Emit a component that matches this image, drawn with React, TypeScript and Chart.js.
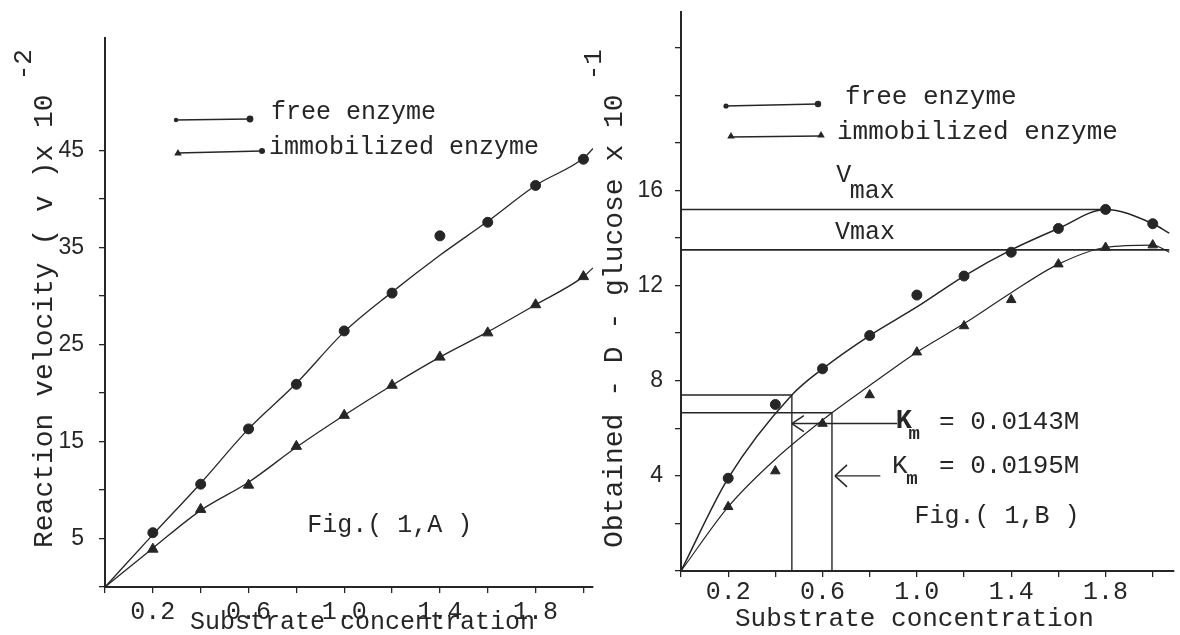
import React, { useEffect, useRef } from 'react';
import { Chart, registerables } from 'chart.js';

Chart.register(...registerables);

const INK = '#262626';
const MONO = '"Liberation Mono", "Courier New", monospace';
const SANS = '"Liberation Sans", Arial, sans-serif';

// ---------- shared ----------
const xValues = [0.2, 0.4, 0.6, 0.8, 1.0, 1.2, 1.4, 1.6, 1.8, 2.0];
const seriesLabels = ['free enzyme', 'immobilized enzyme'];
const xAxisTitle = 'Substrate concentration';

// ---------- Fig. (1,A) ----------
const freeA = [5.6, 10.6, 16.3, 20.9, 26.4, 30.3, 36.2, 37.6, 41.4, 44.1];
const immoA = [3.9, 8.0, 10.5, 14.5, 17.7, 20.8, 23.7, 26.2, 29.1, 32.0];
const fitXA = [0, 0.2, 0.4, 0.6, 0.8, 1.0, 1.2, 1.4, 1.6, 1.8, 2.0, 2.04];
const freeFitA = [0, 5.4, 10.7, 16.3, 21.0, 26.3, 30.4, 34.2, 37.7, 41.4, 44.2, 45.2];
const immoFitA = [0, 4.0, 7.9, 10.8, 14.4, 17.7, 20.8, 23.7, 26.3, 29.1, 32.0, 32.9];
const yTitleA = 'Reaction velocity ( v )x 10';
const yExpA = '-2';
const figLabelA = 'Fig.( 1,A )';

// ---------- Fig. (1,B) ----------
const freeB = [3.9, 7.0, 8.5, 9.9, 11.6, 12.4, 13.4, 14.4, 15.2, 14.6];
const immoB = [2.7, 4.2, 6.2, 7.4, 9.2, 10.3, 11.4, 12.9, 13.6, 13.7];
const freeFitXB = [0, 0.2, 0.47, 0.6, 0.8, 1.0, 1.2, 1.4, 1.6, 1.8, 2.0, 2.07];
const freeFitB = [0, 3.9, 7.4, 8.5, 9.9, 11.1, 12.4, 13.5, 14.4, 15.2, 14.6, 14.2];
const immoFitXB = [0, 0.2, 0.4, 0.64, 0.8, 1.0, 1.2, 1.4, 1.6, 1.8, 2.0, 2.07];
const immoFitB = [0, 2.7, 4.7, 6.65, 7.8, 9.2, 10.4, 11.7, 12.9, 13.6, 13.7, 13.4];
const vmaxY = [15.2, 13.5]; // free, immobilized
const vmaxEndX = [1.8, 2.07];
const kmX = [0.47, 0.64]; // free, immobilized
const kmY = [7.4, 6.65];
const arrowY = [6.2, 4.0];
const arrowFromX = [0.47, 0.653];
const arrowToX = [0.916, 0.845];
const kmTexts = ['= 0.0143M', '= 0.0195M'];
const yTitleB = 'Obtained - D - glucose x 10';
const yExpB = '-1';
const figLabelB = 'Fig.( 1,B )';

// ---------- helpers ----------
type Pt = { x: number; y: number };
const pts = (xs: number[], ys: number[]): Pt[] => xs.map((x, i) => ({ x, y: ys[i] }));

function font(ctx: CanvasRenderingContext2D, size: number, weight = 'normal', family = MONO) {
  ctx.font = `${weight} ${size}px ${family}`;
}
function text(ctx: CanvasRenderingContext2D, s: string, x: number, y: number, size: number, weight = 'normal') {
  font(ctx, size, weight);
  ctx.fillStyle = INK;
  ctx.textAlign = 'left';
  ctx.textBaseline = 'middle';
  ctx.fillText(s, x, y);
}
function dot(ctx: CanvasRenderingContext2D, x: number, y: number, r: number) {
  ctx.fillStyle = INK;
  ctx.beginPath();
  ctx.arc(x, y, r, 0, Math.PI * 2);
  ctx.fill();
}
function tri(ctx: CanvasRenderingContext2D, x: number, y: number, r: number) {
  ctx.fillStyle = INK;
  ctx.beginPath();
  ctx.moveTo(x, y - r);
  ctx.lineTo(x + r * 0.95, y + r * 0.6);
  ctx.lineTo(x - r * 0.95, y + r * 0.6);
  ctx.closePath();
  ctx.fill();
}
function seg(ctx: CanvasRenderingContext2D, x1: number, y1: number, x2: number, y2: number, w = 1.3) {
  ctx.strokeStyle = INK;
  ctx.lineWidth = w;
  ctx.beginPath();
  ctx.moveTo(x1, y1);
  ctx.lineTo(x2, y2);
  ctx.stroke();
}
function rotatedTitle(ctx: CanvasRenderingContext2D, s: string, exp: string, cx: number, bottomY: number, size: number) {
  ctx.save();
  ctx.translate(cx, bottomY);
  ctx.rotate(-Math.PI / 2);
  font(ctx, size);
  ctx.fillStyle = INK;
  ctx.textAlign = 'left';
  ctx.textBaseline = 'middle';
  ctx.fillText(s, 0, 0);
  const w = ctx.measureText(s).width;
  font(ctx, size - 2);
  ctx.fillText(exp, w + 14, -21);
  ctx.restore();
}

const xTick = (v: number | string) => {
  const n = Math.round(Number(v) * 10);
  return n % 4 === 2 ? (n / 10).toFixed(1) : '';
};

function fitLine(data: Pt[], w = 1.3) {
  return {
    type: 'line' as const,
    data,
    borderColor: INK,
    borderWidth: w,
    pointRadius: 0,
    fill: false,
    cubicInterpolationMode: 'monotone' as const,
  };
}
function markers(data: Pt[], style: string, r: number) {
  return {
    type: 'line' as const,
    data,
    showLine: false,
    pointStyle: style,
    pointRadius: r,
    pointBackgroundColor: INK,
    pointBorderColor: INK,
    pointBorderWidth: 1,
  };
}
function refLine(data: Pt[], w = 1.6) {
  return {
    type: 'line' as const,
    data,
    borderColor: INK,
    borderWidth: w,
    pointRadius: 0,
    fill: false,
    tension: 0,
  };
}

function scales(o: {
  xMax: number; yMax: number; yStep: number; yTop: number; xH: number; yW: number;
  xPad: number; yPad: number; xFont: number; yLabel: (v: number) => string;
}) {
  return {
    x: {
      type: 'linear' as const,
      min: 0,
      max: o.xMax,
      afterFit: (s: any) => { s.height = o.xH; s.paddingLeft = 0; s.paddingRight = 0; },
      ticks: {
        stepSize: 0.2, includeBounds: false, autoSkip: false, maxRotation: 0, minRotation: 0,
        callback: xTick, color: INK, padding: o.xPad,
        font: { family: MONO, size: o.xFont, lineHeight: 1.2 },
      },
      grid: { display: true, drawOnChartArea: false, drawTicks: true, tickLength: 6, color: INK, lineWidth: 1.3 },
      border: { display: true, color: INK, width: 2 },
    },
    y: {
      type: 'linear' as const,
      min: 0,
      max: o.yMax,
      afterFit: (s: any) => { s.width = o.yW; s.paddingTop = 0; s.paddingBottom = 0; },
      afterBuildTicks: (s: any) => { s.ticks = s.ticks.filter((t: any) => t.value <= o.yTop); },
      ticks: {
        stepSize: o.yStep, includeBounds: false, autoSkip: false,
        callback: (v: number | string) => o.yLabel(Number(v)), color: INK, padding: o.yPad,
        font: { family: SANS, size: 23, lineHeight: 1.2 },
      },
      grid: { display: true, drawOnChartArea: false, drawTicks: true, tickLength: 6, color: INK, lineWidth: 1.3 },
      border: { display: true, color: INK, width: 2 },
    },
  };
}

const baseOptions = {
  responsive: false,
  animation: false as const,
  events: [] as any[],
  plugins: { legend: { display: false }, tooltip: { enabled: false }, title: { display: false } },
};

function buildA(canvas: HTMLCanvasElement) {
  const decor = {
    id: 'decorA',
    afterDatasetsDraw(chart: any) {
      const ctx: CanvasRenderingContext2D = chart.ctx;
      const sx = chart.scales.x, sy = chart.scales.y;
      ctx.save();
      rotatedTitle(ctx, yTitleA, yExpA, 45, 548, 28);
      text(ctx, xAxisTitle, 190, 622, 25);
      // legend
      seg(ctx, 175, 120, 250, 119);
      dot(ctx, 176, 120, 2.2);
      dot(ctx, 250, 119, 3.4);
      text(ctx, seriesLabels[0], 271, 112, 25);
      seg(ctx, 177, 153, 262, 151);
      tri(ctx, 178, 153, 4);
      dot(ctx, 262, 151, 3);
      text(ctx, seriesLabels[1], 269, 147, 25);
      text(ctx, figLabelA, sx.getPixelForValue(0.845), sy.getPixelForValue(6.4), 25);
      ctx.restore();
    },
  };
  return new Chart(canvas, {
    type: 'line',
    data: {
      datasets: [
        fitLine(pts(fitXA, freeFitA)),
        fitLine(pts(fitXA, immoFitA)),
        markers(pts(xValues, freeA), 'circle', 5),
        markers(pts(xValues, immoA), 'triangle', 6),
      ] as any,
    },
    options: {
      ...baseOptions,
      layout: { padding: { left: 0, right: 0, top: 38, bottom: 0 } },
      scales: scales({
        xMax: 2.04, yMax: 56.6, yStep: 5, yTop: 45, xH: 48, yW: 105, xPad: 4, yPad: 15, xFont: 25,
        yLabel: (v) => (Math.round(v) % 10 === 5 ? String(Math.round(v)) : ''),
      }),
    } as any,
    plugins: [decor],
  });
}

function buildB(canvas: HTMLCanvasElement) {
  const ox = 560;
  const decor = {
    id: 'decorB',
    afterDatasetsDraw(chart: any) {
      const ctx: CanvasRenderingContext2D = chart.ctx;
      const sx = chart.scales.x, sy = chart.scales.y;
      const X = (v: number) => sx.getPixelForValue(v);
      const Y = (v: number) => sy.getPixelForValue(v);
      ctx.save();
      rotatedTitle(ctx, yTitleB, yExpB, 615 - ox, 548, 28);
      text(ctx, xAxisTitle, 735 - ox, 619, 26);
      // legend
      seg(ctx, 725 - ox, 106, 818 - ox, 104);
      dot(ctx, 726 - ox, 106, 2.6);
      dot(ctx, 818 - ox, 104, 3.2);
      text(ctx, seriesLabels[0], 845 - ox, 97, 26);
      seg(ctx, 730 - ox, 137, 820 - ox, 136);
      tri(ctx, 731 - ox, 136, 4);
      tri(ctx, 821 - ox, 135, 4);
      text(ctx, seriesLabels[1], 837 - ox, 132, 26);
      // Vmax labels
      text(ctx, 'V', X(0.658), Y(16.65), 25);
      text(ctx, 'max', X(0.715), Y(15.95), 25);
      text(ctx, 'Vmax', X(0.653), Y(14.25), 25);
      // Km arrows (chevrons at tips)
      for (let i = 0; i < 2; i++) {
        const tx = X(arrowFromX[i]);
        const ty = Y(arrowY[i]);
        const h = i === 0 ? 8 : 11;
        seg(ctx, tx, ty, tx + 12, ty - h, 1.5);
        seg(ctx, tx, ty, tx + 12, ty + h, 1.5);
      }
      // Km labels
      text(ctx, 'K', X(0.91), Y(6.28), 27, 'bold');
      text(ctx, 'm', X(0.965), Y(5.75), 19, 'bold');
      text(ctx, kmTexts[0], X(1.094), Y(6.28), 26);
      text(ctx, 'K', X(0.895), Y(4.4), 26);
      text(ctx, 'm', X(0.955), Y(3.85), 19, 'bold');
      text(ctx, kmTexts[1], X(1.094), Y(4.4), 26);
      text(ctx, figLabelB, X(0.99), Y(2.3), 25);
      ctx.restore();
    },
  };
  return new Chart(canvas, {
    type: 'line',
    data: {
      datasets: [
        fitLine(pts(freeFitXB, freeFitB), 1.5),
        fitLine(pts(immoFitXB, immoFitB), 1.2),
        markers(pts(xValues, freeB), 'circle', 5),
        markers(pts(xValues, immoB), 'triangle', 5.5),
        refLine(pts([0, vmaxEndX[0]], [vmaxY[0], vmaxY[0]])),
        refLine(pts([0, vmaxEndX[1]], [vmaxY[1], vmaxY[1]])),
        refLine(pts([0, kmX[0], kmX[0]], [kmY[0], kmY[0], 0]), 1.4),
        refLine(pts([0, kmX[1], kmX[1]], [kmY[1], kmY[1], 0]), 1.4),
        refLine(pts([arrowFromX[0], arrowToX[0]], [arrowY[0], arrowY[0]]), 1.5),
        refLine(pts([arrowFromX[1], arrowToX[1]], [arrowY[1], arrowY[1]]), 1.3),
      ] as any,
    },
    options: {
      ...baseOptions,
      layout: { padding: { left: 0, right: 0, top: 12, bottom: 0 } },
      scales: scales({
        xMax: 2.088, yMax: 23.5, yStep: 2, yTop: 22, xH: 64, yW: 121, xPad: 0, yPad: 12, xFont: 25,
        yLabel: (v) => (Math.round(v) % 4 === 0 && v > 0 && v <= 16 ? String(Math.round(v)) : ''),
      }),
    } as any,
    plugins: [decor],
  });
}

export default function App() {
  const refA = useRef<HTMLCanvasElement>(null);
  const refB = useRef<HTMLCanvasElement>(null);
  useEffect(() => {
    const a = buildA(refA.current!);
    const b = buildB(refB.current!);
    return () => {
      a.destroy();
      b.destroy();
    };
  }, []);
  return (
    <div style={{ position: 'absolute', left: 0, top: 0, width: 1180, height: 635, background: '#fff', overflow: 'hidden' }}>
      <canvas ref={refA} width={600} height={635} style={{ position: 'absolute', left: 0, top: 0, width: 600, height: 635 }} />
      <canvas ref={refB} width={620} height={635} style={{ position: 'absolute', left: 560, top: 0, width: 620, height: 635 }} />
    </div>
  );
}
